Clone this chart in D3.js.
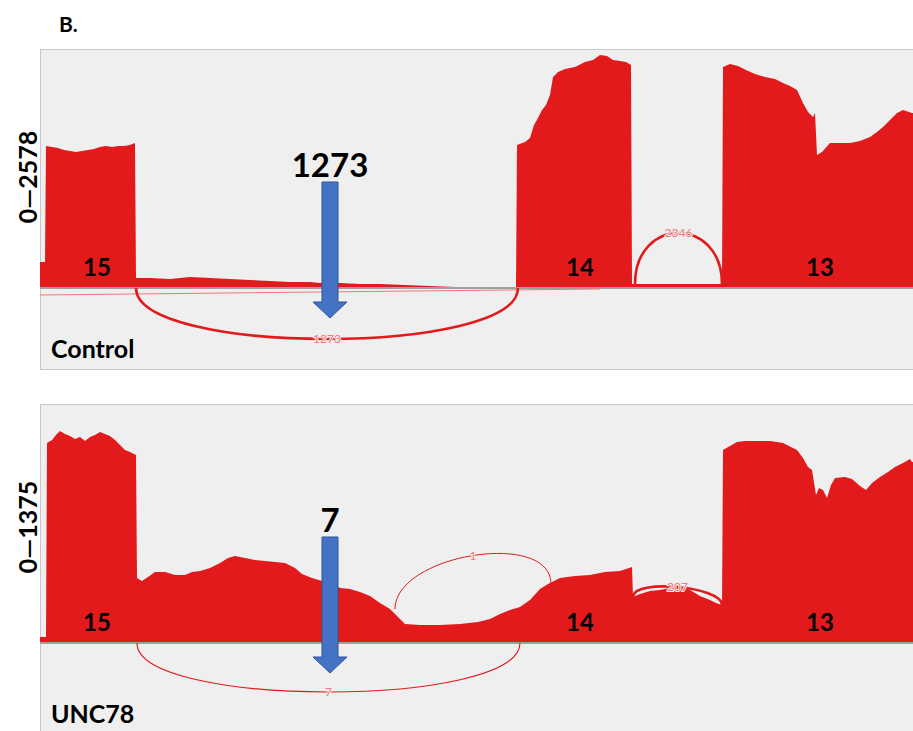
<!DOCTYPE html>
<html>
<head>
<meta charset="utf-8">
<title>Sashimi plot</title>
<script src="https://cdn.jsdelivr.net/npm/d3@7"></script>
<style>
body { margin: 0; background: #fff; }
svg text { font-family: Lato, "Open Sans", sans-serif; }
.panel { fill: #efefef; stroke: #c8c8c8; stroke-width: 1; }
.cov { fill: #e31a1c; }
.base { stroke: #a0a0a0; stroke-width: 2; }
.arc { fill: none; stroke: #e31a1c; }
.arclab { fill: #f07878; font-size: 12px; text-anchor: middle; paint-order: stroke; stroke: #efefef; stroke-width: 2px; }
.exon { font-size: 24px; font-weight: bold; text-anchor: middle; }
.name { font-size: 25px; font-weight: bold; }
.ylab { font-size: 25px; font-weight: bold; text-anchor: middle; }
.arrow { fill: #4472c4; stroke: #2f5597; stroke-width: 1; }
.arrowlab { font-size: 33px; font-weight: bold; text-anchor: middle; }
</style>
</head>
<body>
<div id="chart"></div>
<script>

// genomic offset within the window (left edge = 0) and read depth
var ctrlPos = [0, 5, 6, 12, 18, 24, 30, 36, 42, 48, 54, 60, 66, 72, 78, 84, 90, 95,
  96, 110, 130, 150, 170, 190, 210, 230, 250, 270, 280, 300, 320, 340, 365, 390, 415, 476,
  477, 485, 490, 494, 498, 502, 506, 510, 513, 518, 525, 535, 545, 553, 560, 567, 573, 580, 586, 591,
  592, 682,
  683, 690, 698, 706, 715, 725, 735, 743, 750, 757, 763, 768, 773, 775, 777, 782, 790, 800, 810,
  820, 830, 837, 843, 850, 857, 863, 872, 873];
var ctrlCov = [278, 278, 1567, 1556, 1545, 1522, 1511, 1500, 1511, 1522, 1533, 1556, 1567, 1556, 1567, 1567, 1578, 1600,
  100, 100, 89, 111, 100, 89, 78, 67, 56, 56, 44, 44, 33, 33, 22, 11, 0, 0,
  1578, 1611, 1656, 1800, 1878, 1967, 2022, 2133, 2334, 2389, 2422, 2445, 2500, 2523, 2578, 2567, 2523, 2511, 2500, 2467,
  33, 33,
  2445, 2478, 2456, 2411, 2367, 2334, 2311, 2267, 2234, 2189, 2045, 1945, 1889, 1933, 1467, 1500, 1600, 1600, 1600,
  1622, 1667, 1722, 1778, 1856, 1933, 1967, 1933, 1933];

var uncPos = [0, 6, 7, 12, 16, 20, 25, 30, 35, 40, 45, 50, 55, 60, 65, 70, 75, 80, 85, 90, 96,
  97, 102, 108, 115, 125, 135, 145, 152, 160, 170, 180, 188, 195, 205, 215, 225, 235, 245, 255, 262,
  272, 282, 292, 300, 310, 320, 330, 340, 350, 358, 365, 380, 400, 420, 438, 450, 460, 470, 480, 490,
  500, 508, 520, 535, 550, 565, 580, 592,
  593, 600, 610, 620, 630, 640, 650, 660, 670, 676, 682,
  683, 690, 697, 705, 720, 730, 743, 757, 763, 768, 772, 776, 779, 783, 787, 791, 795, 805, 812, 820,
  826, 832, 840, 848, 855, 863, 870, 872, 873];
var uncCov = [30, 30, 1190, 1208, 1237, 1261, 1243, 1231, 1214, 1225, 1202, 1225, 1237, 1255, 1243, 1231, 1208, 1178, 1148, 1136, 1118,
  383, 365, 389, 418, 418, 401, 401, 418, 424, 442, 472, 502, 514, 502, 490, 484, 478, 472, 442, 406,
  383, 365, 347, 323, 317, 299, 275, 233, 197, 149, 108, 102, 102, 108, 120, 137, 167, 191, 209, 251,
  317, 347, 383, 395, 401, 418, 424, 448,
  269, 287, 305, 311, 323, 329, 311, 275, 251, 233, 221,
  1148, 1172, 1196, 1202, 1202, 1202, 1190, 1148, 1100, 1046, 1028, 879, 921, 909, 861, 939, 980, 986, 974, 933,
  909, 950, 986, 1016, 1046, 1070, 1094, 1076, 1076];

var ctrlJunctions = [
  {start: 96, end: 478, count: 1273, side: "below"},
  {start: 595, end: 682, count: 2346, side: "above"}
];
var uncJunctions = [
  {start: 97, end: 480, count: 7, side: "below"},
  {start: 355, end: 511, count: 1, side: "above"},
  {start: 593, end: 682, count: 207, side: "above"}
];

var exonNames = ["15", "14", "13"];
var exonMid = [57, 540, 780];

var sampleNames = ["Control", "UNC78"];
var dataRange = [2578, 1375];
var arrowPos = 290;
var arrowLabels = ["1273", "7"];

// layout per track
var W = 913, H = 731;
var tracks = [
  {top: 49, h: 320, base: 287, yTop: 55, pos: ctrlPos, cov: ctrlCov, junc: ctrlJunctions,
   bulge: [51, 51], nameY: 358, ylabY: 177, readLine: true},
  {top: 404, h: 340, base: 642, yTop: 412, pos: uncPos, cov: uncCov, junc: uncJunctions,
   bulge: [49, 41, 14], nameY: 723, ylabY: 527, readLine: false}
];

var svg = d3.select("#chart").append("svg")
  .attr("width", W).attr("height", H);

var x = d3.scaleLinear().domain([0, 873]).range([40, 913]);
var arcW = d3.scaleSqrt().domain([1, 200]).range([1, 2.6]).clamp(true);

svg.append("text").attr("x", 59).attr("y", 32)
  .style("font-size", "21px").style("font-weight", "bold").text("B.");

svg.append("defs").append("clipPath").attr("id", "clip")
  .append("rect").attr("x", 40).attr("y", 0).attr("width", 880).attr("height", H);

tracks.forEach(function(t, i) {
  var g = svg.append("g");
  var y = d3.scaleLinear().domain([0, dataRange[i]]).range([t.base, t.yTop]);

  g.append("rect").attr("class", "panel")
    .attr("x", 40.5).attr("y", t.top + 0.5).attr("width", 890).attr("height", t.h);

  var pts = t.pos.map(function(p, k) { return {pos: p, v: t.cov[k]}; });
  var covAt = function(p) {
    var k = d3.bisectRight(t.pos, p) - 1;
    return t.cov[Math.max(0, k)];
  };

  var area = d3.area()
    .x(function(d) { return x(d.pos); })
    .y0(t.base)
    .y1(function(d) { return y(d.v); })
    .curve(d3.curveLinear);

  var body = g.append("g").attr("clip-path", "url(#clip)");
  body.append("path").datum(pts).attr("class", "cov").attr("d", area);

  body.append("line").attr("class", "base")
    .attr("x1", 40).attr("x2", 913).attr("y1", t.base + 1).attr("y2", t.base + 1);

  // faint read-through line under the control track
  if (t.readLine) {
    body.append("path")
      .datum([{pos: 0, off: 8}, {pos: 560, off: 2}])
      .attr("fill", "none").attr("stroke", "#f07878").attr("stroke-width", 1)
      .attr("d", d3.line()
        .x(function(d) { return x(d.pos); })
        .y(function(d) { return t.base + d.off; }));
  }

  // junction arcs
  t.junc.forEach(function(j, k) {
    var x0 = x(j.start), x1 = x(j.end), y0, y1, c;
    var b = t.bulge[k] / 0.75;
    if (j.side === "below") {
      y0 = y1 = t.base + 1;
      c = b;
    } else {
      y0 = y(covAt(j.start));
      y1 = y(covAt(j.end));
      c = -b;
    }
    var p = d3.path();
    p.moveTo(x0, y0);
    p.bezierCurveTo(x0, y0 + c, x1, y1 + c, x1, y1);
    body.append("path").attr("class", "arc")
      .attr("stroke-width", arcW(j.count)).attr("d", p.toString());
    var apex = (y0 + y1) / 2 + 0.75 * c;
    body.append("text").attr("class", "arclab")
      .attr("x", (x0 + x1) / 2).attr("y", apex).attr("dy", "0.35em")
      .text(j.count);
  });

  // exon numbers
  g.selectAll(".exon").data(exonNames).enter().append("text")
    .attr("class", "exon")
    .attr("x", function(d, k) { return x(exonMid[k]); })
    .attr("y", t.base - 11)
    .text(function(d) { return d; });

  // blue arrow with junction count
  var cx = x(arrowPos), tb = t.base;
  var arrowPts = [[cx - 8, tb - 105], [cx + 8, tb - 105], [cx + 8, tb + 15], [cx + 17, tb + 15],
    [cx, tb + 31], [cx - 17, tb + 15], [cx - 8, tb + 15]];
  g.append("path").attr("class", "arrow")
    .attr("d", d3.line()(arrowPts) + "Z");
  g.append("text").attr("class", "arrowlab")
    .attr("x", cx).attr("y", tb - 110).text(arrowLabels[i]);

  g.append("text").attr("class", "name")
    .attr("x", 51).attr("y", t.nameY).text(sampleNames[i]);

  g.append("text").attr("class", "ylab")
    .attr("transform", "translate(37," + t.ylabY + ") rotate(-90)")
    .text("0\u2014" + dataRange[i]);
});

</script>
</body>
</html>
